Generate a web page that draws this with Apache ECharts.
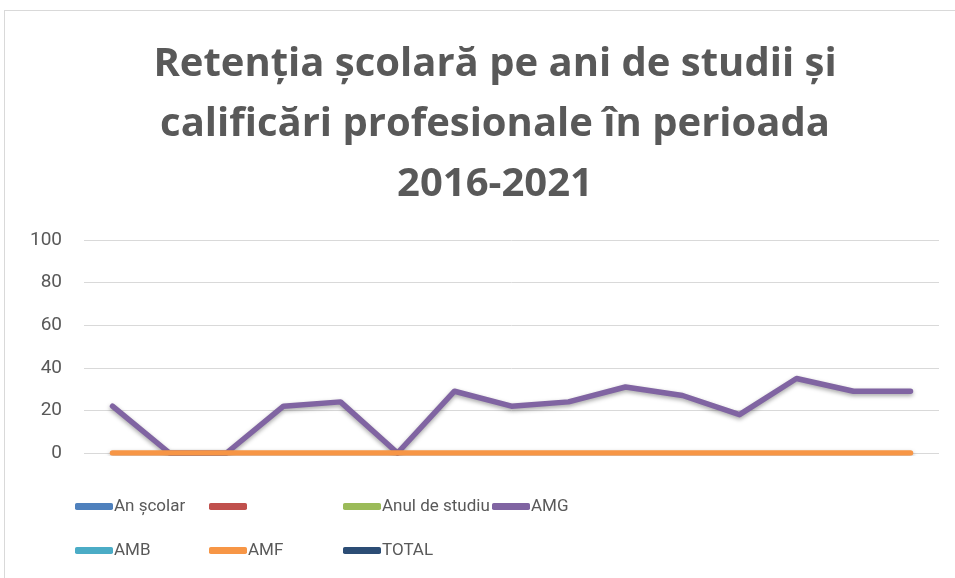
<!DOCTYPE html>
<html lang="ro">
<head>
	<meta charset="UTF-8">
	<title>Retenția şcolară</title>
	<style>
		html, body { margin: 0; padding: 0; background: #fff; }
		#frame {
			position: absolute; left: 4px; top: 10px;
			width: 1000px; height: 700px;
			border: 1px solid #d9d9d9;
		}
		#chart { position: absolute; left: 0; top: 0; width: 955px; height: 578px; }
	</style>
</head>
<body>
	<div id="frame"></div>
	<div id="chart"></div>
<script src="https://cdn.jsdelivr.net/npm/echarts@6/dist/echarts.min.js"></script>
<script>
    // date
    var categories = ['1', '2', '3', '4', '5', '6', '7', '8', '9', '10', '11', '12', '13', '14', '15'];
    var seriesNames = ['An şcolar', ' ', 'Anul de studiu', 'AMG', 'AMB', 'AMF', 'TOTAL'];
    var seriesColors = ['#4f81bd', '#c0504d', '#9bbb59', '#8064a2', '#4bacc6', '#f79646', '#2c4d75'];
    var anScolar = [];
    var fara = [];
    var anulDeStudiu = [];
    var amg = [22, 0, 0, 22, 24, 0, 29, 22, 24, 31, 27, 18, 35, 29, 29];
    var amb = [];
    var amf = [0, 0, 0, 0, 0, 0, 0, 0, 0, 0, 0, 0, 0, 0, 0];
    var total = [];
    var yTicks = [0, 20, 40, 60, 80, 100];

    var seriesData = [anScolar, fara, anulDeStudiu, amg, amb, amf, total];
    // pozitii legenda (coloane / randuri)
    var legendPos = [[75, 498], [209, 498], [343, 498], [492, 498], [75, 542], [209, 542], [343, 542]];

    var myChart = echarts.init(document.getElementById('chart'));

    var series = seriesNames.map(function (name, i) {
        return {
            name: name,
            type: 'line',
            data: seriesData[i],
            symbol: 'none',
            color: seriesColors[i],
            lineStyle: {
                width: 5.5,
                cap: 'round',
                join: 'round',
                shadowColor: 'rgba(0,0,0,0.35)',
                shadowBlur: 4,
                shadowOffsetY: 2
            }
        };
    });

    var legends = seriesNames.map(function (name, i) {
        return {
            data: [name],
            left: legendPos[i][0],
            top: legendPos[i][1],
            itemWidth: 38,
            itemHeight: 7,
            itemGap: 0,
            padding: 0,
            icon: 'roundRect',
            textStyle: { color: '#595959', fontSize: 17, fontFamily: 'Roboto', padding: [0, 0, 0, -4] },
            selectedMode: false
        };
    });

    var option = {
        animation: false,
        title: {
            text: 'Retenția şcolară pe ani de studii şi\ncalificări profesionale în perioada\n2016-2021',
            left: 490,
            textAlign: 'center',
            top: 30,
            textStyle: {
                color: '#595959',
                fontSize: 40,
                fontWeight: 'bold',
                fontFamily: 'Open Sans',
                lineHeight: 60
            }
        },
        legend: legends,
        grid: { left: 84, right: 16, top: 240, bottom: 125, containLabel: false },
        xAxis: {
            type: 'category',
            data: categories,
            boundaryGap: true,
            axisLine: { show: false },
            axisTick: { show: false },
            axisLabel: { show: false }
        },
        yAxis: {
            type: 'value',
            min: yTicks[0],
            max: yTicks[yTicks.length - 1],
            interval: 20,
            axisLine: { show: false },
            axisTick: { show: false },
            axisLabel: { color: '#595959', fontSize: 19, fontFamily: 'Roboto', margin: 22 },
            splitLine: { lineStyle: { color: '#d9d9d9', width: 1 } }
        },
        series: series
    };

    myChart.setOption(option);
</script>
</body>
</html>
